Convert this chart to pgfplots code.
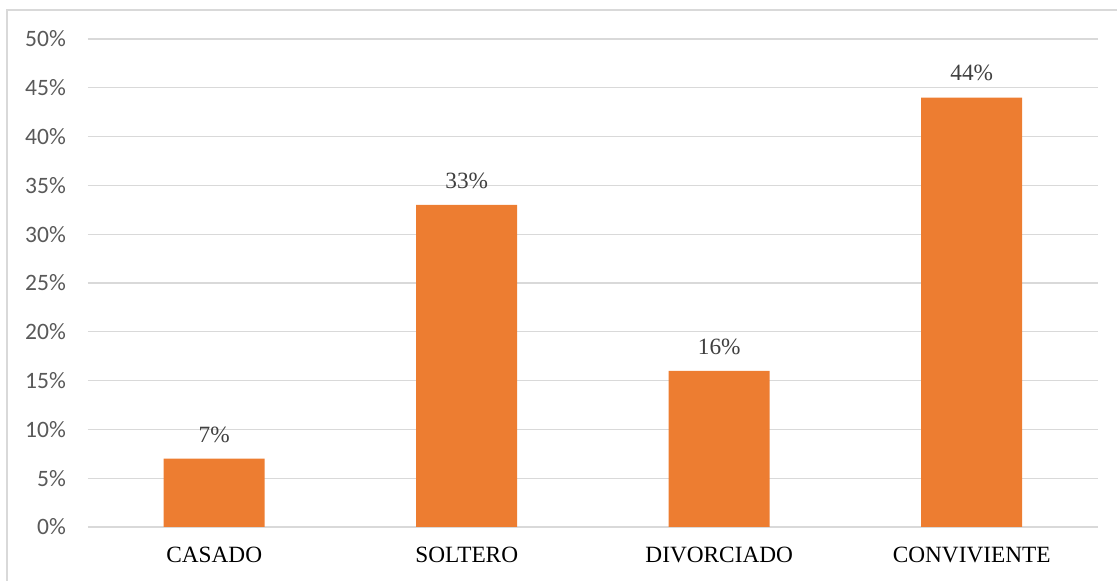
\documentclass[border=0pt]{standalone}
\usepackage{fontspec}
\setmainfont{Liberation Serif}
\newfontfamily\calibri{Carlito}
\usepackage{pgfplots}
\pgfplotsset{compat=1.18}
\definecolor{barorange}{HTML}{ED7D31}
\definecolor{gridgray}{HTML}{D9D9D9}
\definecolor{ticklab}{HTML}{595959}
\definecolor{datalab}{HTML}{404040}
\begin{document}
\begin{tikzpicture}
\useasboundingbox (-88bp,-54bp) rectangle (1029bp,527bp);
\draw[gridgray, line width=1.2bp] (-81bp,-80bp) -- (-81bp,517bp) -- (1060bp,517bp);
\begin{axis}[
  at={(0,0)}, anchor=south west,
  scale only axis,
  width=1010bp, height=488bp,
  xmin=-0.5, xmax=3.5,
  ymin=0, ymax=50,
  ybar, bar width=101bp,
  axis line style={draw=none},
  major tick length=0pt,
  xtick={0,1,2,3},
  xticklabels={CASADO,SOLTERO,DIVORCIADO,CONVIVIENTE},
  ytick={0,5,10,15,20,25,30,35,40,45,50},
  yticklabels={0\%,5\%,10\%,15\%,20\%,25\%,30\%,35\%,40\%,45\%,50\%},
  ymajorgrids,
  grid style={gridgray, line width=1.2bp},
  yticklabel style={font=\calibri\fontsize{23.5bp}{28bp}\selectfont, text=ticklab, anchor=east, inner sep=0pt, xshift=-22bp},
  xticklabel style={font=\fontsize{23.3bp}{28bp}\selectfont, text=black, anchor=base, inner sep=0pt, yshift=-35.7bp},
  nodes near coords={\pgfmathprintnumber[assume math mode=true]{\pgfplotspointmeta}\%},
  nodes near coords style={font=\fontsize{23.3bp}{28bp}\selectfont, text=datalab, anchor=base, inner sep=0pt, yshift=16.6bp},
]
\addplot[fill=barorange, draw=none] coordinates {(0,7) (1,33) (2,16) (3,44)};
\end{axis}
\end{tikzpicture}
\end{document}
